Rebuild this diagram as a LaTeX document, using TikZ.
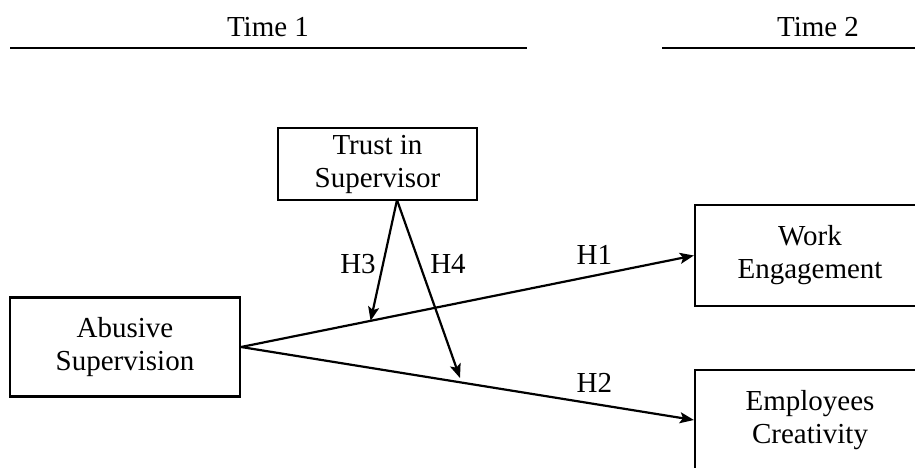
\documentclass[tikz,border=0pt]{standalone}
\usepackage{fontspec}
\setmainfont{Liberation Serif}
\usetikzlibrary{arrows.meta,calc}
\begin{document}
\begin{tikzpicture}[x=1pt,y=-1pt,
  box/.style={draw, line width=2.2pt, inner sep=0pt, align=center, font=\fontsize{29}{33}\selectfont},
  lbl/.style={inner sep=0pt, font=\fontsize{29}{33}\selectfont},
  conn/.style={line width=2.2pt, -{Stealth[length=14pt,width=11pt,inset=3pt]}},
  rule/.style={line width=2.4pt}]
\useasboundingbox (0,0) rectangle (915,468);
\clip (0,0) rectangle (915,468);
% time headers
\node[lbl] (t1) at (268,27) {Time 1};
\node[lbl] (t2) at (818,27) {Time 2};
\coordinate (l1a) at (10,48);
\coordinate (l1b) at (527,48);
\coordinate (l2a) at (662,48);
\coordinate (l2b) at (920,48);
\draw[rule] (l1a) -- (l1b);
\draw[rule] (l2a) -- (l2b);
% boxes
\node[box, minimum width=199, minimum height=72] (tr) at (377.5,164) {Trust in\\Supervisor};
\node[box, minimum width=230, minimum height=99] (ab) at (125,347) {Abusive\\Supervision};
\node[box, minimum width=230, minimum height=101] (we) at (810,255.5) {Work\\Engagement};
\node[box, minimum width=230, minimum height=100] (ec) at (810,420) {Employees\\Creativity};
% main paths
\draw[conn] (ab.east) -- node[lbl, pos=0.78, above=10pt] (h1) {H1} (we.west);
\draw[conn] (ab.east) -- node[lbl, pos=0.78, above=10pt] (h2) {H2} (ec.west);
% moderation
\coordinate (o) at (397,200);
\coordinate (h3t) at ($(ab.east)!0.286!(we.west)$);
\coordinate (h4t) at (460,378);
\draw[conn] (o) -- (h3t);
\draw[conn] (o) -- (h4t);
\node[lbl] (h3) at (358,264) {H3};
\node[lbl] (h4) at (448,264) {H4};
\end{tikzpicture}
\end{document}
